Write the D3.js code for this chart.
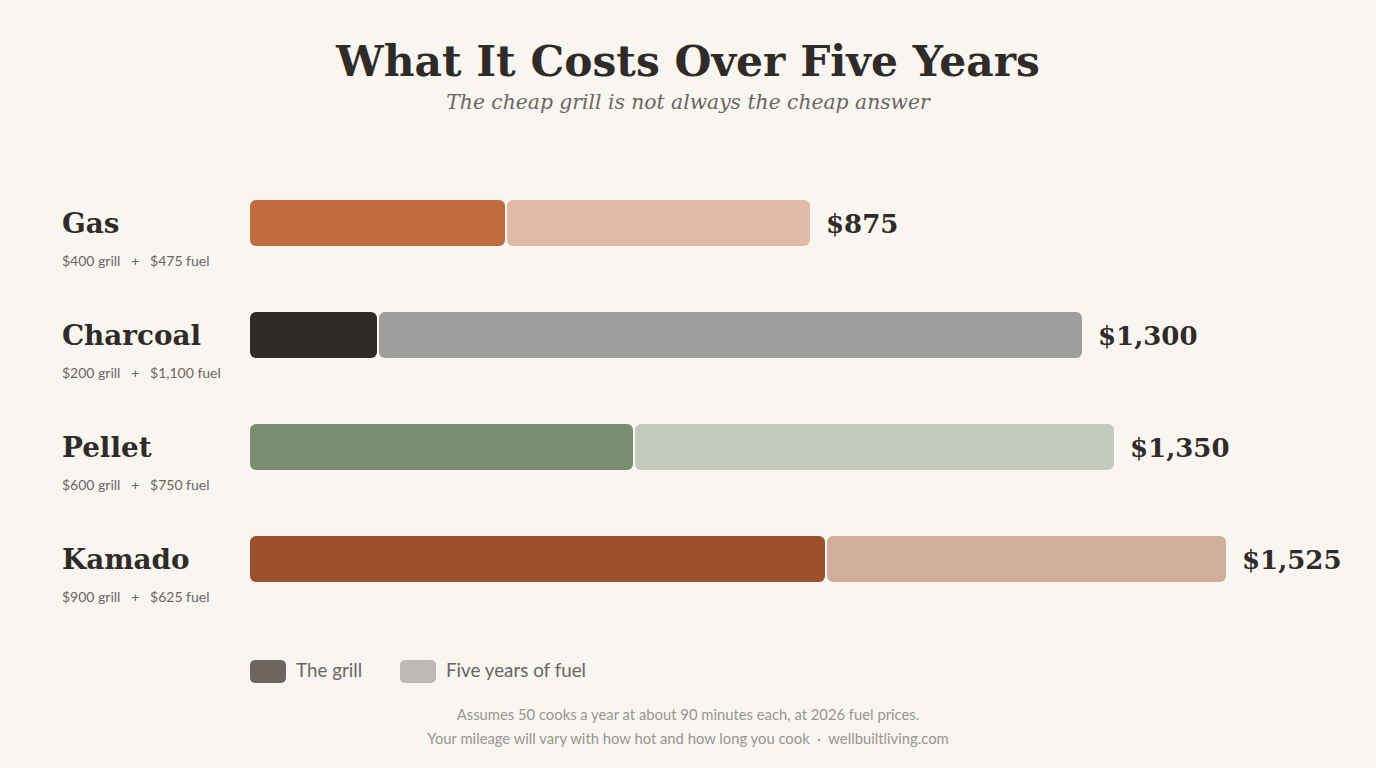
<!DOCTYPE html>
<html>
<head>
<meta charset="utf-8">
<script src="https://cdn.jsdelivr.net/npm/d3@7"></script>
<style>
  html, body { margin: 0; padding: 0; background: #f9f6f1; }
  svg { display: block; }
</style>
</head>
<body>
<svg id="chart"></svg>
<script>
// data
const grills = ["Gas", "Charcoal", "Pellet", "Kamado"];
const grillCost = [400, 200, 600, 900];
const fuelCost = [475, 1100, 750, 625];
const grillColors = ["#bf6b3c", "#2f2b28", "#7a8f72", "#9b4f2a"];
const fuelColors = ["#e2b9a4", "#a09e9c", "#c4cabd", "#d1ad9c"];
const legendLabels = ["The grill", "Five years of fuel"];
const legendColors = ["#6e6561", "#bdb9b6"];

const width = 1376, height = 768;
const serif = "Georgia, 'DejaVu Serif', serif";
const sans = "Lato, 'Open Sans', sans-serif";
const ink = "#2f2b28";

const rows = grills.map((g, i) => ({
  name: g, grill: grillCost[i], fuel: fuelCost[i], total: grillCost[i] + fuelCost[i],
  c1: grillColors[i], c2: fuelColors[i]
}));

const svg = d3.select("#chart").attr("width", width).attr("height", height);

const x = d3.scaleLinear().domain([0, d3.max(rows, d => d.total)]).range([250, 1226]);
// 112px per row, bar 46px tall
const y = d3.scaleBand().domain(grills).range([167, 615]).paddingInner(66 / 112).paddingOuter(0.5 * 66 / 112);

const fmt = d3.format("$,");

// title
svg.append("text")
  .attr("x", width / 2).attr("y", 76)
  .attr("text-anchor", "middle")
  .attr("font-family", serif).attr("font-weight", "bold").attr("font-size", 42.4)
  .attr("fill", ink)
  .text("What It Costs Over Five Years");

svg.append("text")
  .attr("x", width / 2).attr("y", 109)
  .attr("text-anchor", "middle")
  .attr("font-family", serif).attr("font-style", "italic").attr("font-size", 20.3)
  .attr("fill", "#6b6561")
  .text("The cheap grill is not always the cheap answer");

const row = svg.selectAll("g.row")
  .data(rows)
  .join("g")
  .attr("class", "row");

row.append("rect")
  .attr("x", x(0))
  .attr("y", d => y(d.name))
  .attr("width", d => x(d.grill) - x(0) - 1)
  .attr("height", y.bandwidth())
  .attr("rx", 6)
  .attr("fill", d => d.c1);

row.append("rect")
  .attr("x", d => x(d.grill) + 1)
  .attr("y", d => y(d.name))
  .attr("width", d => x(d.total) - x(d.grill) - 1)
  .attr("height", y.bandwidth())
  .attr("rx", 6)
  .attr("fill", d => d.c2);

// totals
row.append("text")
  .attr("x", d => x(d.total) + 16)
  .attr("y", d => y(d.name) + y.bandwidth() / 2 + 10)
  .attr("font-family", serif).attr("font-weight", "bold").attr("font-size", 26)
  .attr("fill", ink)
  .text(d => fmt(d.total));

// names
row.append("text")
  .attr("x", 62)
  .attr("y", d => y(d.name) + y.bandwidth() / 2 + 10)
  .attr("font-family", serif).attr("font-weight", "bold").attr("font-size", 27.8)
  .attr("fill", ink)
  .text(d => d.name);

row.append("text")
  .attr("x", 62)
  .attr("y", d => y(d.name) + y.bandwidth() / 2 + 43)
  .attr("font-family", sans).attr("font-size", 14)
  .attr("fill", "#6b6561")
  .attr("xml:space", "preserve")
  .text(d => `${fmt(d.grill)} grill   +   ${fmt(d.fuel)} fuel`);

// legend
const legendX = [250, 400];
const leg = svg.selectAll("g.legend")
  .data(legendLabels)
  .join("g")
  .attr("class", "legend")
  .attr("transform", (d, i) => `translate(${legendX[i]},660)`);

leg.append("rect")
  .attr("width", 36).attr("height", 23).attr("rx", 5)
  .attr("fill", (d, i) => legendColors[i]);

leg.append("text")
  .attr("x", 46).attr("y", 17)
  .attr("font-family", sans).attr("font-size", 18.8)
  .attr("fill", "#6b6561")
  .text(d => d);

// footer
const notes = [
  "Assumes 50 cooks a year at about 90 minutes each, at 2026 fuel prices.",
  "Your mileage will vary with how hot and how long you cook  \u00b7  wellbuiltliving.com"
];
svg.selectAll("text.note")
  .data(notes)
  .join("text")
  .attr("class", "note")
  .attr("x", width / 2)
  .attr("y", (d, i) => 720 + i * 24)
  .attr("text-anchor", "middle")
  .attr("font-family", sans).attr("font-size", 14.8)
  .attr("fill", "#9a9490")
  .attr("xml:space", "preserve")
  .text(d => d);
</script>
</body>
</html>
